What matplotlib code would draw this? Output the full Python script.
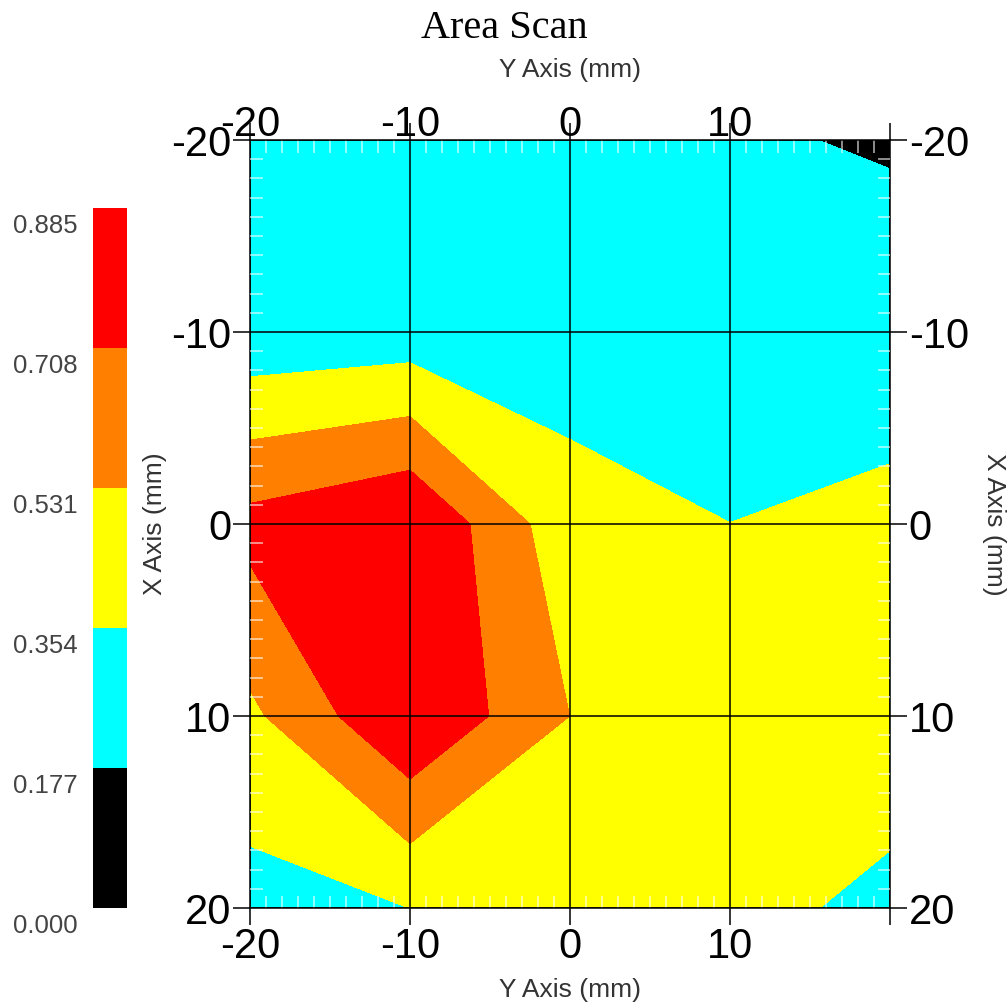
import numpy as np
import matplotlib.pyplot as plt
import matplotlib.transforms as mtransforms
from matplotlib.ticker import MultipleLocator

plt.rcParams['font.family'] = ['Liberation Sans', 'DejaVu Sans']

# grid positions (mm): horizontal = "Y Axis", vertical = "X Axis"
pos_y = [-20, -10, 0, 10, 20]
pos_x = [-20, -10, 0, 10, 20]

# measured values, one row per X position
row_xm20 = [0.260, 0.270, 0.250, 0.210, 0.150]
row_xm10 = [0.229, 0.253, 0.279, 0.280, 0.330]
row_x0 = [0.765, 0.885, 0.413, 0.3545, 0.365]
row_x10 = [0.495, 0.880, 0.530, 0.450, 0.480]
row_x20 = [0.287, 0.3545, 0.450, 0.423, 0.300]

levels = [0.000, 0.177, 0.354, 0.531, 0.708, 0.885]
level_colors = ['#000000', '#00FFFF', '#FFFF00', '#FF8000', '#FF0000']
level_text = ['0.000', '0.177', '0.354', '0.531', '0.708', '0.885']

tick_vals = [-20, -10, 0, 10, 20]
tick_text = ['-20', '-10', '0', '10', '20']
tick_text_x = ['-20', '-10', '0', '10', '']

Z = np.array([row_xm20, row_xm10, row_x0, row_x10, row_x20])

W, H = 1008, 1005
fig = plt.figure(figsize=(W / 100, H / 100), dpi=100)
ax = fig.add_axes([250 / W, 1 - 908 / H, 640 / W, 768 / H])

cs = ax.contourf(pos_y, pos_x, Z, levels=levels, colors=level_colors)
ax.set_xlim(-20, 20)
ax.set_ylim(20, -20)

ax.set_xticks(tick_vals, labels=tick_text_x)
ax.set_yticks(tick_vals, labels=tick_text)
ax.xaxis.set_minor_locator(MultipleLocator(1))
ax.yaxis.set_minor_locator(MultipleLocator(1))
ax.tick_params(which='major', direction='out', length=12, width=1.1,
               top=True, right=True, labeltop=False, labelright=True,
               labelsize=30, pad=1.5)
ax.tick_params(which='minor', direction='in', length=9, width=1.3,
               color=(1, 1, 1, 0.6), top=True, right=True)
ax.set_axisbelow(False)
ax.grid(which='major', color='black', linewidth=1.1)
for sp in ax.spines.values():
    sp.set_linewidth(1.1)

# top labels sit right on the frame
secax = ax.secondary_xaxis('top')
secax.set_xticks(tick_vals, labels=tick_text_x)
secax.tick_params(length=0, pad=-3.6, labelsize=30)
secax.spines['top'].set_visible(False)

# colour bar
cax = fig.add_axes([93 / W, 1 - 908 / H, 34 / W, 700 / H])
cb = fig.colorbar(cs, cax=cax)
cb.outline.set_visible(False)
cax.set_yticks([])
trans = mtransforms.blended_transform_factory(cax.transAxes, cax.transData) + \
    mtransforms.ScaledTranslation(-15 / 100, -18 / 100, fig.dpi_scale_trans)
for lv, txt in zip(levels, level_text):
    cax.text(0, lv, txt, transform=trans, ha='right', va='center',
             fontsize=18.5, color='#444444')

fig.text(0.5, 1 - 28 / H, 'Area Scan', ha='center', va='center',
         family='Liberation Serif', fontsize=29)
fig.text(570 / W, 1 - 70 / H, 'Y Axis (mm)', ha='center', va='center',
         fontsize=19, color='#333333')
fig.text(570 / W, 1 - 990 / H, 'Y Axis (mm)', ha='center', va='center',
         fontsize=19, color='#333333')
fig.text(155 / W, 1 - 524 / H, 'X Axis (mm)', ha='center', va='center',
         rotation=90, fontsize=19, color='#333333')
fig.text(994 / W, 1 - 524 / H, 'X Axis (mm)', ha='center', va='center',
         rotation=-90, fontsize=19, color='#333333')

fig.savefig('out.png', dpi=100)
